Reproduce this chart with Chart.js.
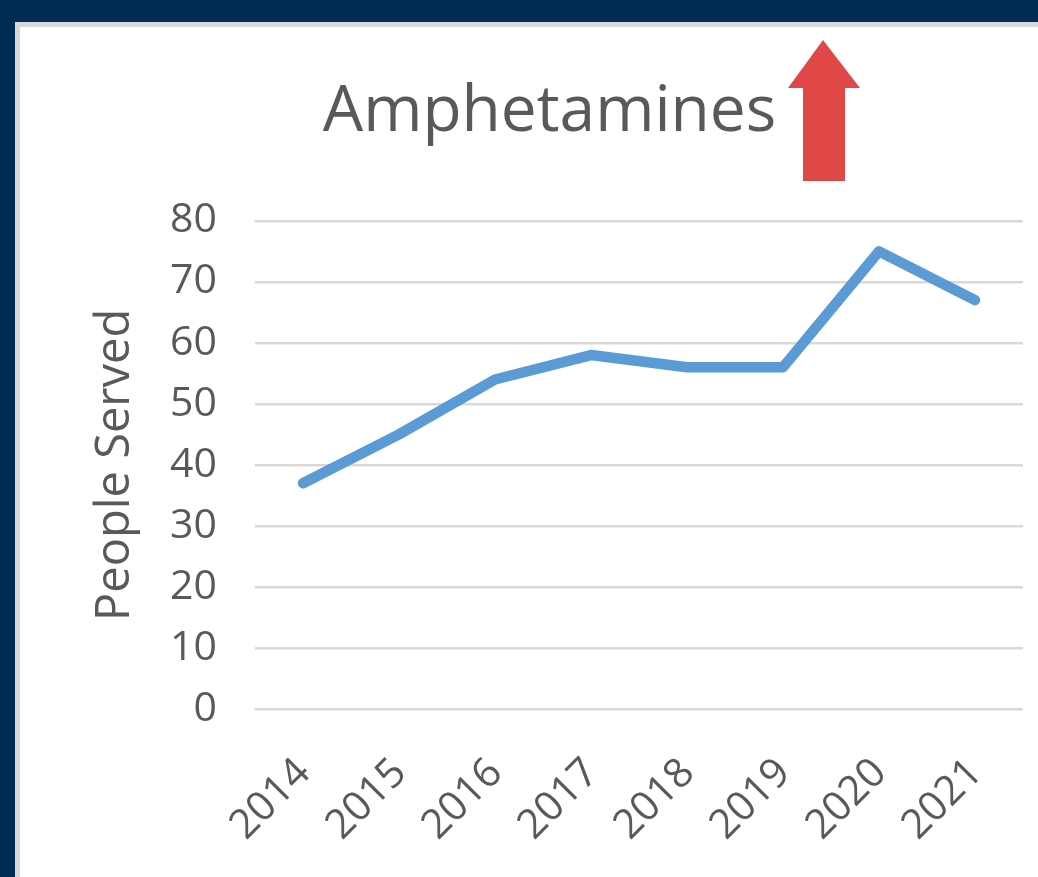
<!DOCTYPE html>
<html>
<head>
<meta charset="utf-8">
<script src="https://cdn.jsdelivr.net/npm/chart.js@4/dist/chart.umd.min.js"></script>
<style>
  html, body { margin: 0; padding: 0; background: #002b55; overflow: hidden; }
  #panel {
    position: absolute; left: 15px; top: 22px; width: 1030px; height: 870px;
    background: #ffffff; border-left: 5px solid #d9d9d9; border-top: 5px solid #d9d9d9;
  }
  #wrap { position: absolute; left: 0; top: 0; width: 1018px; height: 850px; }
</style>
</head>
<body>
<div id="panel"><div id="wrap"><canvas id="amph-chart"></canvas></div></div>
<script>
// chart data
const years  = ['2014', '2015', '2016', '2017', '2018', '2019', '2020', '2021'];
const served = [37, 45, 54, 58, 56, 56, 75, 67];
const yTicks = [0, 10, 20, 30, 40, 50, 60, 70, 80];

const grey = '#595959';
const tickFont = { family: 'Open Sans', size: 41 };

// red "up" arrow beside the title
const arrowPlugin = {
    id: 'upArrow',
    afterDraw(chart) {
        const ctx = chart.ctx;
        ctx.save();
        ctx.fillStyle = '#e04747';
        ctx.beginPath();
        ctx.moveTo(803, 13);
        ctx.lineTo(840, 61);
        ctx.lineTo(825, 61);
        ctx.lineTo(825, 154);
        ctx.lineTo(783, 154);
        ctx.lineTo(783, 61);
        ctx.lineTo(768, 61);
        ctx.closePath();
        ctx.fill();
        ctx.restore();
    }
};

new Chart(document.getElementById('amph-chart'), {
    type: 'line',
    data: {
        labels: years,
        datasets: [{
            label: 'Amphetamines',
            data: served,
            borderColor: '#5b9bd5',
            borderWidth: 10.5,
            borderCapStyle: 'round',
            borderJoinStyle: 'round',
            pointRadius: 0,
            tension: 0,
            fill: false
        }]
    },
    options: {
        responsive: true,
        maintainAspectRatio: false,
        animation: false,
        layout: { padding: { left: 56, right: 15, top: 0, bottom: 0 } },
        plugins: {
            legend: { display: false },
            tooltip: { enabled: false },
            title: {
                display: true,
                text: 'Amphetamines',
                color: grey,
                font: { family: 'Open Sans', size: 64, weight: 'normal' },
                padding: { top: 47, bottom: 70 }
            }
        },
        scales: {
            x: {
                offset: true,
                grid: { display: false },
                border: { display: false },
                ticks: {
                    color: grey,
                    font: tickFont,
                    minRotation: 45,
                    maxRotation: 45,
                    padding: 32,
                    labelOffset: 1
                },
                afterFit(s) {
                    s.height = 168;
                    s.paddingLeft = 0;
                    s.paddingRight = 0;
                }
            },
            y: {
                min: 0,
                max: 80,
                afterBuildTicks(s) { s.ticks = yTicks.map(v => ({ value: v })); },
                grid: { color: '#d9d9d9', lineWidth: 2.5, drawTicks: false },
                border: { display: false },
                ticks: { color: grey, font: tickFont, padding: 38 },
                title: {
                    display: true,
                    text: 'People Served',
                    color: grey,
                    font: { family: 'Open Sans', size: 47 },
                    padding: { top: 11, bottom: 0 }
                },
                afterFit(s) { s.width = 179; }
            }
        }
    },
    plugins: [arrowPlugin]
});
</script>
</body>
</html>
